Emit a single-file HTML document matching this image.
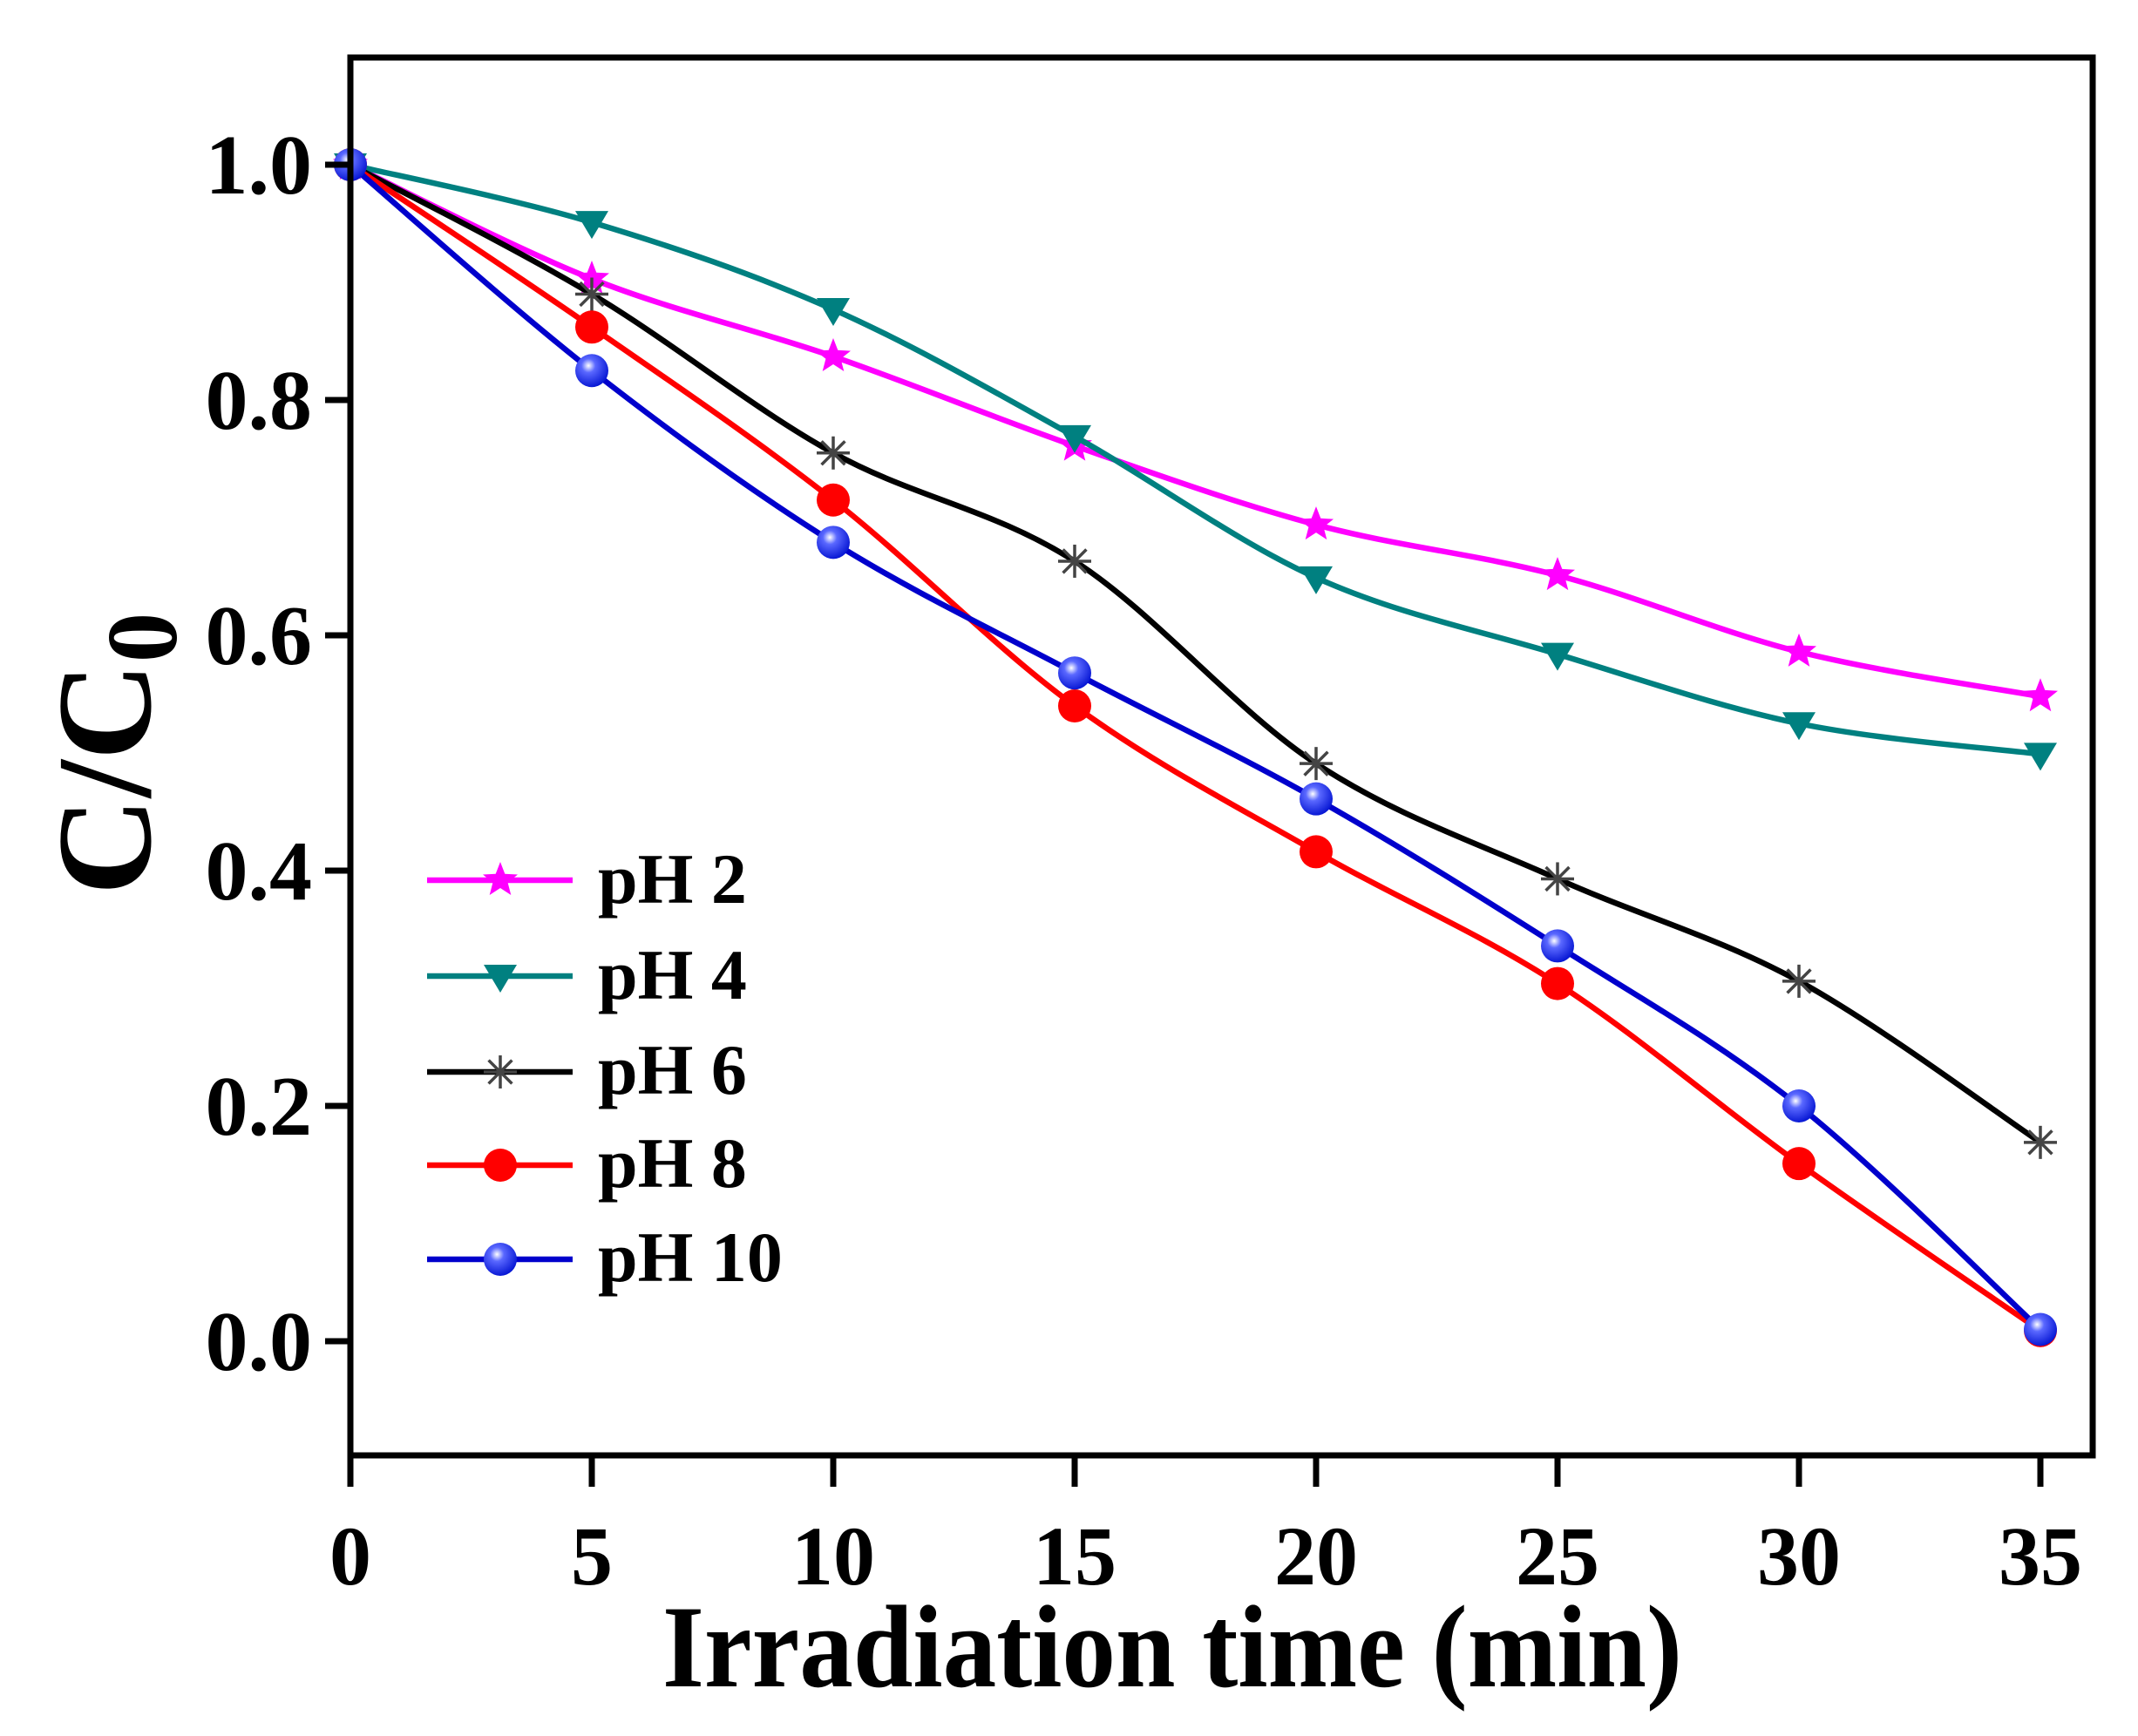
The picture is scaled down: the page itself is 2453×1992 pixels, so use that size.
<!DOCTYPE html>
<html><head><meta charset="utf-8"><style>
html,body{margin:0;padding:0;background:#fff;}
svg{display:block;}
text{font-family:"Liberation Serif",serif;font-weight:bold;fill:#000;}
</style></head><body>
<svg id="s" width="2453" height="1992" viewBox="0 0 2453 1992" xmlns="http://www.w3.org/2000/svg">
<defs>
<radialGradient id="bg" cx="0.4" cy="0.35" r="0.7">
<stop offset="0" stop-color="#ffffff"/><stop offset="0.3" stop-color="#5a68ff"/><stop offset="1" stop-color="#0010d0"/>
</radialGradient>
</defs>
<rect x="0" y="0" width="2453" height="1992" fill="#fff"/>
<g id="plot"></g>
<rect x="402" y="66" width="1999" height="1604" fill="none" stroke="#000" stroke-width="7"/>
<g id="ticks" stroke="#000" stroke-width="7"></g>
<g font-size="98" text-anchor="end">
<text x="358" y="1572">0.0</text>
<text x="358" y="1302">0.2</text>
<text x="358" y="1032">0.4</text>
<text x="358" y="762">0.6</text>
<text x="358" y="492">0.8</text>
<text x="358" y="222">1.0</text>
</g>
<g font-size="96" text-anchor="middle">
<text x="402" y="1818">0</text>
<text x="679" y="1818">5</text>
<text x="956" y="1818">10</text>
<text x="1233" y="1818">15</text>
<text x="1510" y="1818">20</text>
<text x="1787" y="1818">25</text>
<text x="2064" y="1818">30</text>
<text x="2341" y="1818">35</text>
</g>
<text x="1345" y="1935" font-size="135" text-anchor="middle" textLength="1170" lengthAdjust="spacingAndGlyphs">Irradiation time (min)</text>
<text transform="translate(172,865) rotate(-90)" font-size="155" text-anchor="middle">C/C<tspan font-size="115" dy="30">0</tspan></text>
<g font-size="82">
<text x="686" y="1036">pH 2</text>
<text x="686" y="1146">pH 4</text>
<text x="686" y="1255">pH 6</text>
<text x="686" y="1362">pH 8</text>
<text x="686" y="1470">pH 10</text>
</g>
<g id="leg"></g>
</svg>
<script>
var X=function(t){return 402+t*277/5;}, Y=function(v){return 1539-v*1350;};
var ts=[0,5,10,15,20,25,30,35];
var series=[
 {c:"#ff00ff",m:"star",d:[1,0.903,0.837,0.761,0.694,0.651,0.586,0.548]},
 {c:"#008080",m:"tri",d:[1,0.951,0.877,0.769,0.649,0.584,0.525,0.499]},
 {c:"#000000",m:"ast",d:[1,0.89,0.755,0.663,0.491,0.393,0.306,0.169]},
 {c:"#ff0000",m:"circ",d:[1,0.862,0.715,0.540,0.416,0.304,0.151,0.009]},
 {c:"#0000cc",m:"ball",d:[1,0.825,0.679,0.568,0.461,0.336,0.200,0.010]}
];
var NS="http://www.w3.org/2000/svg";
function el(n,a,p){var e=document.createElementNS(NS,n);for(var k in a)e.setAttribute(k,a[k]);p.appendChild(e);return e;}
var plot=document.getElementById("plot"),leg=document.getElementById("leg"),tk=document.getElementById("ticks");
for(var i=0;i<=5;i++){var y=Y(i*0.2);el("line",{x1:373,y1:y,x2:402,y2:y},tk);}
ts.forEach(function(t){el("line",{x1:X(t),y1:1670,x2:X(t),y2:1706},tk);});
function marker(m,c,x,y,g){
 if(m=="star"){var p=[];for(var k=0;k<10;k++){var r=k%2?9:21,a=-Math.PI/2+k*Math.PI/5;p.push((x+r*Math.cos(a)).toFixed(1)+","+(y+r*Math.sin(a)).toFixed(1));}el("polygon",{points:p.join(" "),fill:c},g);}
 else if(m=="tri"){el("polygon",{points:(x-19)+","+(y-13)+" "+(x+19)+","+(y-13)+" "+x+","+(y+19),fill:c},g);}
 else if(m=="ast"){for(var k=0;k<4;k++){var a=k*Math.PI/4;el("line",{x1:x-19*Math.cos(a),y1:y-19*Math.sin(a),x2:x+19*Math.cos(a),y2:y+19*Math.sin(a),stroke:"#444","stroke-width":3.5},g);}}
 else if(m=="circ"){el("circle",{cx:x,cy:y,r:19,fill:c},g);}
 else {el("circle",{cx:x,cy:y,r:19,fill:"url(#bg)"},g);}
}
series.forEach(function(s,si){
 var P=ts.map(function(t,i){return [X(t),Y(s.d[i])];});
 var d="M"+P[0][0]+","+P[0][1];
 for(var i=0;i<P.length-1;i++){
  var p0=P[Math.max(i-1,0)],p1=P[i],p2=P[i+1],p3=P[Math.min(i+2,P.length-1)];
  var k=1/6;
  d+=" C"+(p1[0]+(p2[0]-p0[0])*k)+","+(p1[1]+(p2[1]-p0[1])*k)+" "+(p2[0]-(p3[0]-p1[0])*k)+","+(p2[1]-(p3[1]-p1[1])*k)+" "+p2[0]+","+p2[1];
 }
 el("path",{d:d,fill:"none",stroke:s.c,"stroke-width":6.5},plot);
 P.forEach(function(p){marker(s.m,s.c,p[0],p[1],plot);});
 var ly=[1010,1120,1230,1337,1445][si];
 el("line",{x1:490,y1:ly,x2:657,y2:ly,stroke:s.c,"stroke-width":6.5},leg);
 marker(s.m,s.c,574,ly,leg);
});
</script>
</body></html>
